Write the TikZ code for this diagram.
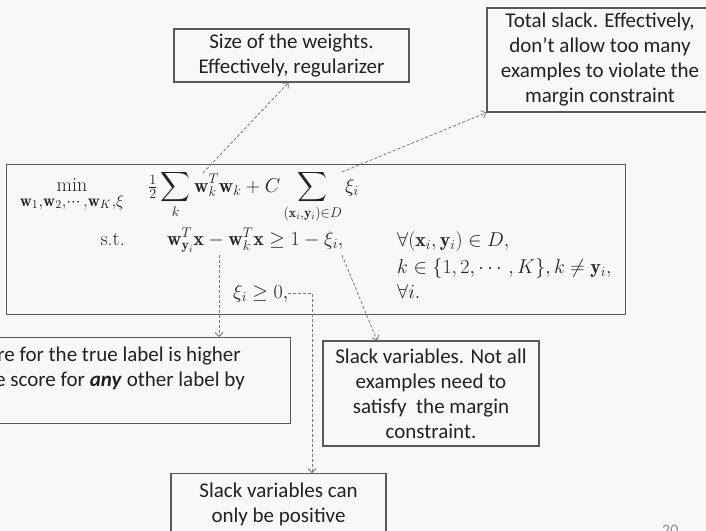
\RequirePackage{fix-cm}
\documentclass[tikz,border=0pt]{standalone}
\usepackage{amsmath}
\usepackage{fontspec}
\newfontfamily\calib{Carlito}
\usetikzlibrary{arrows.meta}
\definecolor{bg}{HTML}{F8F8F8}
\definecolor{txt}{HTML}{222222}
\definecolor{bord}{HTML}{595959}
\definecolor{dashc}{HTML}{7A7A7A}
\begin{document}
\begin{tikzpicture}[x=1pt,y=-1pt,
  note/.style={draw=bord, line width=1.2pt, text=txt, align=center, inner sep=0pt,
    font=\calib\fontsize{21}{25}\selectfont},
  txtline/.style={text=txt, inner sep=0pt, font=\calib\fontsize{21}{25}\selectfont},
  mth/.style={text=txt, inner sep=0pt, font=\fontsize{20}{24}\selectfont},
  ann/.style={draw=dashc, line width=0.8pt, dash pattern=on 3pt off 2pt,
    -{Straight Barb[length=4pt,width=8pt]}}]
\clip (0,0) rectangle (706,530);
\fill[bg] (0,0) rectangle (706,530);
% annotation boxes
\node[note, minimum width=235, minimum height=53] (b1) at (291.5,55.5)
  {Size of the weights.\\Effectively, regularizer};
\node[note, minimum width=226, minimum height=104] (b2) at (600,60)
  {Total slack. Effectively,\\don’t allow too many\\examples to violate the\\margin constraint};
\node[note, minimum width=331, minimum height=86, anchor=north east] (b3) at (291,337) {};
\node[txtline, anchor=base east] (t3a) at (241,361) {re for the true label is higher};
\node[txtline, anchor=base east] (t3b) at (245,386) {e score for \textbf{\textit{any}} other label by};
\node[note, minimum width=216, minimum height=105] (b4) at (431,393.5)
  {Slack variables. Not all\\examples need to\\satisfy\ \ the margin\\constraint.};
\node[note, minimum width=215, minimum height=62, anchor=north] (b5) at (278.5,473)
  {Slack variables can\\only be positive};
% optimisation problem
\node[draw=bord, line width=1.2pt, minimum width=619, minimum height=150,
  anchor=north west, inner sep=0pt] (opt) at (6,164) {};
\node[mth, anchor=base] (min) at (72,191)
  {$\displaystyle\min_{\scalebox{1.2}{$\scriptstyle\mathbf{w}_1,\mathbf{w}_2,\cdots,\mathbf{w}_K,\xi$}}$};
\node[mth, anchor=base west] (obj) at (148,192)
  {$\displaystyle\tfrac{1}{2}\sum_k \mathbf{w}_k^T\mathbf{w}_k + C\sum_{(\mathbf{x}_i,\mathbf{y}_i)\in D}\xi_i$};
\node[mth, anchor=base east] (st) at (125,245) {s.t.};
\node[mth, anchor=base west] (c1) at (167,245)
  {$\mathbf{w}_{\mathbf{y}_i}^T\mathbf{x}-\mathbf{w}_k^T\mathbf{x}\geq 1-\xi_i,$};
\node[mth, anchor=base west] (d1) at (397,246) {$\forall(\mathbf{x}_i,\mathbf{y}_i)\in D,$};
\node[mth, anchor=base west] (d2) at (397,273) {$k\in\{1,2,\cdots,K\},k\neq\mathbf{y}_i,$};
\node[mth, anchor=base west] (xi) at (233,298) {$\xi_i\geq 0,$};
\node[mth, anchor=base west] (d3) at (397,298) {$\forall i.$};
% connectors
\coordinate (s1) at (203,173);
\coordinate (s2) at (342,172);
\coordinate (s3) at (219,255);
\coordinate (s4) at (342,255);
\draw[ann] (s1) -- ([xshift=-3pt]b1.south);
\draw[ann] (s2) -- (b2.south west);
\draw[ann] (s3) -- (s3 |- b3.north);
\draw[ann] (s4) -- ([xshift=-54pt]b4.north);
\draw[ann] (xi.east) -| ([xshift=33.5pt]b5.north);
% page number
\node[text=black!45, inner sep=0pt, anchor=north west, font=\calib\fontsize{16}{18}\selectfont] (pg) at (662,525) {20};
\end{tikzpicture}
\end{document}
